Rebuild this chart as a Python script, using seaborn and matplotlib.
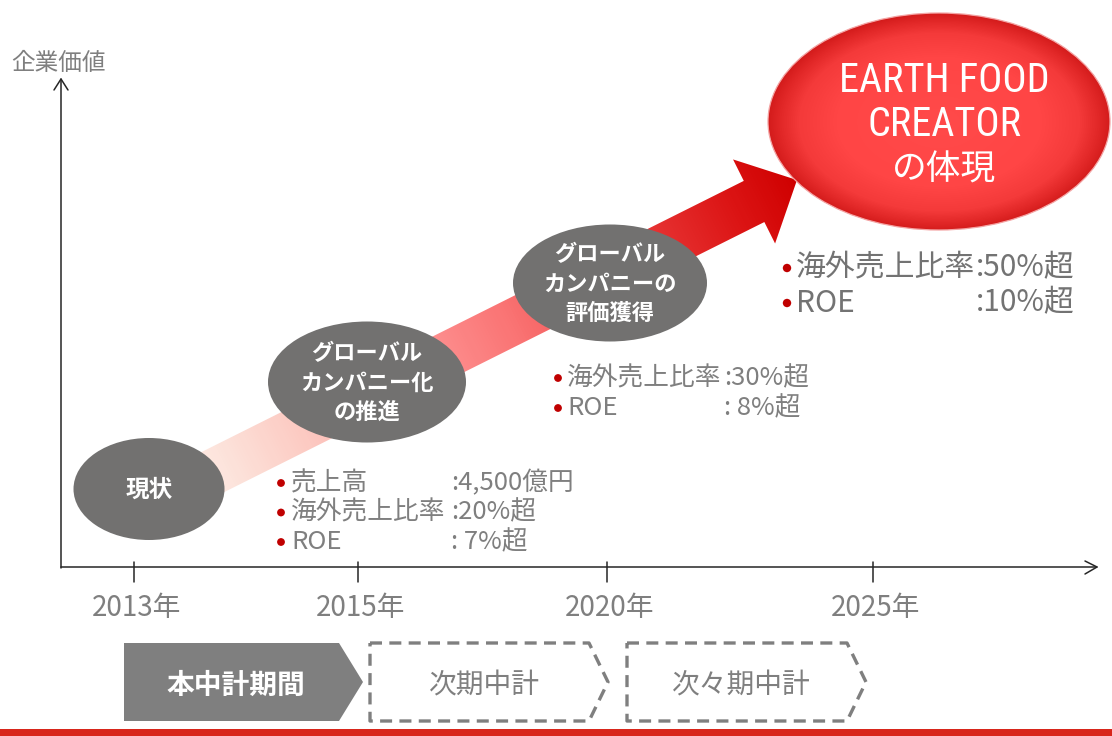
import numpy as np
import matplotlib
matplotlib.use("Agg")
import matplotlib.pyplot as plt
import seaborn as sns
from matplotlib.patches import Ellipse, Polygon, Rectangle
from matplotlib.colors import LinearSegmentedColormap
from matplotlib import font_manager

# ---- data ----
years = ["2013年", "2015年", "2020年", "2025年"]
year_x = [134, 358, 607, 873]

stage_lines = [["現状"],
               ["グローバル", "カンパニー化", "の推進"],
               ["グローバル", "カンパニーの", "評価獲得"]]
stage_xy = [(149, 489), (367, 382), (610, 283)]
stage_wh = [(151, 102), (198, 121), (194, 117)]

goal_lines = ["EARTH FOOD", "CREATOR", "の体現"]

kpi_labels_2015 = ["売上高", "海外売上比率", "ROE"]
kpi_values_2015 = [":4,500億円", ":20%超", ": 7%超"]
kpi_labels_2020 = ["海外売上比率", "ROE"]
kpi_values_2020 = [":30%超", ": 8%超"]
kpi_labels_2025 = ["海外売上比率", "ROE"]
kpi_values_2025 = [":50%超", ":10%超"]

periods = ["本中計期間", "次期中計", "次々期中計"]

# ---- style ----
sns.set_theme(style="white")
plt.rcParams['font.family'] = ['Noto Sans CJK JP', 'DejaVu Sans']
installed = {f.name for f in font_manager.fontManager.ttflist}
narrow = [f for f in ['Liberation Sans Narrow', 'Roboto Condensed', 'Roboto'] if f in installed][:1]
narrow = narrow + ['Noto Sans CJK JP', 'DejaVu Sans']

GRAY_TXT = "#7f7f7f"
BUBBLE = "#727170"
DOT_RED = "#c00000"

fig = plt.figure(figsize=(11.12, 7.36), dpi=100)
ax = fig.add_axes([0, 0, 1, 1])
W, H = 1112, 736


def gradient_patch(patch, values, cmap, box):
    # paint a colour field into a box and clip it to a patch
    x0, x1, y0, y1 = box
    ax.add_patch(patch)
    im = ax.imshow(cmap(np.clip(values, 0, 1)), extent=(x0, x1, y1, y0),
                   interpolation="bilinear", aspect="auto", zorder=patch.get_zorder())
    im.set_clip_path(patch)


# ---- big rising arrow ----
S = np.array([160.0, 498.5])
T = np.array([797.0, 180.0])
L = np.linalg.norm(T - S)
u = (T - S) / L
n = np.array([-u[1], u[0]])
B = T - 48 * u
arrow_pts = [S + 23 * n, B + 23 * n, B + 47 * n, T, B - 47 * n, B - 23 * n, S - 23 * n]
arr = np.array(arrow_pts)
bx0, by0 = arr.min(axis=0) - 2
bx1, by1 = arr.max(axis=0) + 2
X, Y = np.meshgrid(np.arange(bx0, bx1), np.arange(by0, by1))
t = ((X - S[0]) * u[0] + (Y - S[1]) * u[1]) / L
cmap_arrow = LinearSegmentedColormap.from_list(
    "arrow", [(0, "#fff4f0"), (0.1, "#fde4dc"), (0.22, "#fccac2"), (0.38, "#ff9c9c"),
              (0.55, "#fa7474"), (0.75, "#ea3b3b"), (0.9, "#dc1515"), (1, "#cf0000")])
gradient_patch(Polygon(arrow_pts, closed=True, fc="none", ec="none", zorder=1),
               t, cmap_arrow, (bx0, bx1, by0, by1))

# ---- grey stage bubbles ----
for lines, (cx, cy), (w, h) in zip(stage_lines, stage_xy, stage_wh):
    ax.add_patch(Ellipse((cx, cy), w, h, fc=BUBBLE, ec="none", zorder=3))
    fs = 17 if len(lines) == 1 else 16
    for i, line in enumerate(lines):
        ax.text(cx, cy + 1 + (i - (len(lines) - 1) / 2) * 29, line, color="white",
                fontsize=fs, fontweight="bold", ha="center", va="center", zorder=4)

# ---- red goal ellipse ----
gcx, gcy, ga, gb = 939, 121.5, 171, 108.5
gx0, gx1, gy0, gy1 = gcx - ga - 2, gcx + ga + 2, gcy - gb - 2, gcy + gb + 2
X, Y = np.meshgrid(np.arange(gx0, gx1), np.arange(gy0, gy1))
r = np.sqrt(((X - gcx) / ga) ** 2 + ((Y - gcy) / gb) ** 2)
cmap_goal = LinearSegmentedColormap.from_list(
    "goal", [(0, "#ff4a4a"), (0.6, "#ff4545"), (0.82, "#f43a3a"), (0.94, "#e02626"), (1, "#d41c1c")])
gradient_patch(Ellipse((gcx, gcy), 2 * ga, 2 * gb, fc="none", ec="none", zorder=3),
               r, cmap_goal, (gx0, gx1, gy0, gy1))
ax.add_patch(Ellipse((gcx, gcy), 2 * ga, 2 * gb, fc="none", ec="#f4a4a4", lw=0.9, zorder=3))
for i, line in enumerate(goal_lines):
    if line.isascii():
        ax.text(gcx + 5, 80 + 45 * i, line, color="white", fontsize=29, family=narrow,
                ha="center", va="center", zorder=4)
    else:
        ax.text(gcx + 5, 80 + 45 * i, line, color="white", fontsize=25,
                ha="center", va="center", zorder=4)

# ---- axes of the concept chart ----
AX = "#262626"
ax.plot([61, 61], [568, 79], color=AX, lw=1.1, zorder=2)
ax.plot([54, 61, 68], [90, 79, 90], color=AX, lw=1.1, zorder=2)
ax.plot([61, 1097], [567, 567], color=AX, lw=1.1, zorder=2)
ax.plot([1085, 1097, 1085], [561, 567, 574], color=AX, lw=1.1, zorder=2)
ax.text(58, 63, "企業価値", color=GRAY_TXT, fontsize=17, ha="center", va="center")
for lab, x in zip(years, year_x):
    ax.plot([x, x], [562, 582], color=AX, lw=1.1, zorder=2)
    ax.text(x + 3, 608, lab, color=GRAY_TXT, fontsize=20, ha="center", va="center")

# ---- KPI bullet lists ----
kpi_groups = [
    (kpi_labels_2015, kpi_values_2015, 281, 291, 451, 483, 29.5, 18.5, GRAY_TXT),
    (kpi_labels_2020, kpi_values_2020, 558, 567, 724, 378, 30, 18.5, GRAY_TXT),
    (kpi_labels_2025, kpi_values_2025, 787, 796, 976, 268, 35, 21.5, "#737373"),
]
for labels, values, dot_x, lab_x, val_x, y0, step, fs, col in kpi_groups:
    ys = [y0 + step * i for i in range(len(labels))]
    sns.scatterplot(x=[dot_x] * len(ys), y=ys, color=DOT_RED, s=fs * 1.7,
                    edgecolor="none", legend=False, ax=ax, zorder=4)
    for lab, val, y in zip(labels, values, ys):
        ax.text(lab_x, y, lab, color=col, fontsize=fs, ha="left", va="center")
        ax.text(val_x, y, val, color=col, fontsize=fs, ha="left", va="center")

# ---- plan periods ----
ax.add_patch(Polygon([(124, 643), (339, 643), (363, 682), (339, 721), (124, 721)],
                     closed=True, fc="#7f7f7f", ec="none"))
ax.text(236, 686, periods[0], color="white", fontsize=20, fontweight="bold",
        ha="center", va="center")
for (left, right), lab in zip([(370, 589), (627, 847)], periods[1:]):
    xs = [left, right, right + 19, right, left, left]
    ys = [643, 643, 682, 721, 721, 643]
    ax.plot(xs, ys, color="#7f7f7f", lw=2.4, dashes=(3.6, 2.2), solid_capstyle="butt")
    ax.text((left + right + 19) / 2 - 5, 686, lab, color=GRAY_TXT, fontsize=20,
            ha="center", va="center")

ax.add_patch(Rectangle((0, 729), W, 7, fc="#d8261b", ec="none"))

ax.set_xlim(0, W)
ax.set_ylim(H, 0)
ax.axis("off")
fig.savefig("out.png", dpi=100)
